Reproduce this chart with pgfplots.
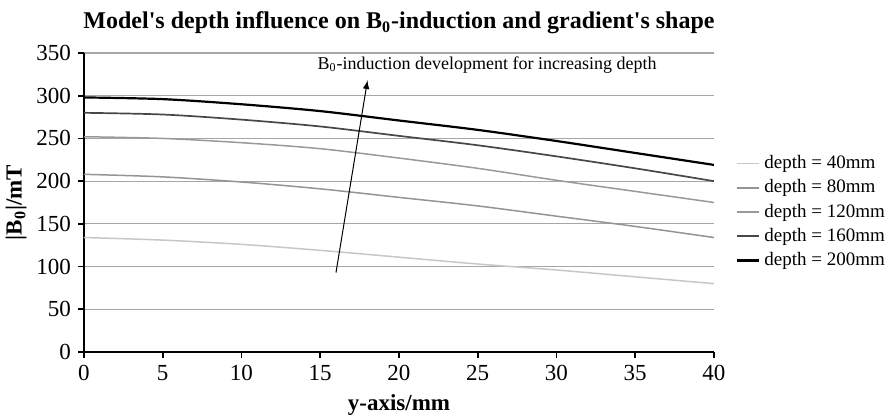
\documentclass[border=0pt]{standalone}
\usepackage{pgfplots}
\pgfplotsset{compat=1.18}
\usepackage{fontspec}
\setmainfont{Liberation Serif}
\usetikzlibrary{calc}
\begin{document}
\begin{tikzpicture}
\begin{axis}[
  scale only axis,
  width=315pt, height=149.5pt,
  xmin=0, xmax=40, ymin=0, ymax=350,
  xtick={0,5,...,40}, ytick={0,50,...,350},
  axis lines=left,
  axis line style={black, line width=1pt, -},
  tick style={black, line width=0.8pt},
  tick align=outside,
  major tick length=3pt,
  ymajorgrids,
  major grid style={gray!70, line width=0.6pt},
  /pgf/number format/assume math mode=true,
  ticklabel style={font=\fontsize{11.5}{12}\selectfont},
  title={\textbf{Model\textquotesingle s depth influence on B\textsubscript{0}-induction and gradient\textquotesingle s shape}},
  title style={font=\fontsize{12}{13}\selectfont, yshift=0pt},
  xlabel={\textbf{y-axis/mm}},
  ylabel={\textbf{|B\textsubscript{0}|/mT}},
  label style={font=\fontsize{11.5}{13}\selectfont},
  ylabel style={yshift=-2pt},
  legend style={draw=none, fill=none, at={(rel axis cs:1.025,0.685)}, anchor=north west,
    font=\fontsize{9.5}{11}\selectfont, row sep=0pt},
  legend cell align=left,
  legend image code/.code={\draw[#1] (0pt,0pt) -- (11pt,0pt);},
  every axis plot/.append style={smooth},
]
\addplot[color=black!22, line width=0.75pt] coordinates {(0,134) (5,131) (10,126) (15,119) (20,111) (25,103) (30,96) (35,88) (40,80)};
\addlegendentry{depth = 40mm}
\addplot[color=black!42, line width=0.75pt] coordinates {(0,208) (5,205) (10,199) (15,191) (20,181) (25,171) (30,159) (35,147) (40,134)};
\addlegendentry{depth = 80mm}
\addplot[color=black!40, line width=0.75pt] coordinates {(0,252) (5,250) (10,245) (15,238) (20,227) (25,215) (30,201) (35,188) (40,175)};
\addlegendentry{depth = 120mm}
\addplot[color=black!72, line width=0.85pt] coordinates {(0,280) (5,278) (10,272) (15,264) (20,253) (25,242) (30,229) (35,215) (40,200)};
\addlegendentry{depth = 160mm}
\addplot[color=black, line width=1.1pt] coordinates {(0,298) (5,296) (10,290) (15,282) (20,271) (25,260) (30,247) (35,233) (40,219)};
\addlegendentry{depth = 200mm}
\draw[-latex, line width=0.5pt] (axis cs:16,93) -- (axis cs:18,318);
\node[font=\fontsize{9}{11}\selectfont] at (axis cs:25.6,336) {B\textsubscript{0}-induction development for increasing depth};
\end{axis}
\pgfresetboundingbox
\path[use as bounding box] ($(current axis.south west)+(-42pt,-33.5pt)$) rectangle ($(current axis.north west)+(403.5pt,26.5pt)$);
\end{tikzpicture}
\end{document}
